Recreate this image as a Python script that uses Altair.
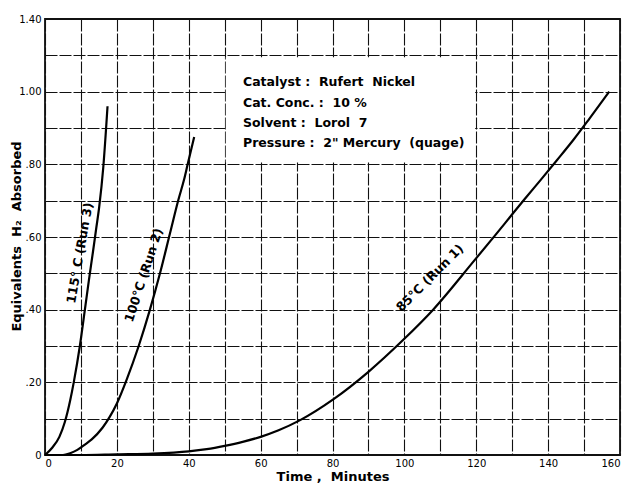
import altair as alt
import pandas as pd

NB = "\u00a0"

# ---- data ----
run1_t = [0, 10, 20, 30, 40, 45, 50, 55, 60, 65, 71, 80.2, 90, 99.7, 108, 119.6, 125.7, 129.4, 133.6, 138, 142.5, 147, 151.5, 157]
run1_h = [0, 0, 0.002, 0.004, 0.01, 0.016, 0.025, 0.036, 0.05, 0.068, 0.096, 0.153, 0.229, 0.317, 0.40, 0.537, 0.61, 0.655, 0.706, 0.758, 0.812, 0.867, 0.926, 1.0]

run2_t = [0, 5, 7, 9, 11, 13, 16, 18, 20, 22.7, 26, 29.2, 32, 34.8, 37.1, 38.7, 39.7, 41.5]
run2_h = [0, 0, 0.005, 0.014, 0.028, 0.043, 0.075, 0.105, 0.142, 0.207, 0.298, 0.40, 0.5, 0.611, 0.702, 0.758, 0.8, 0.875]

run3_t = [0, 2, 4, 5.5, 7, 8, 9.7, 11.1, 12.2, 13.3, 14.2, 15.1, 16.2, 17.4]
run3_h = [0, 0.02, 0.05, 0.09, 0.15, 0.2, 0.3, 0.40, 0.48, 0.556, 0.62, 0.684, 0.79, 0.96]

curve_label_text = ["115° C (Run 3)", "100°C (Run 2)", "85°C (Run 1)"]
curve_label_t = [9.7, 27.5, 107.1]
curve_label_h = [0.556, 0.495, 0.487]
curve_label_angle = [280, 288, 315]

info_lines = [
    f"Catalyst :{NB} Rufert{NB} Nickel",
    f"Cat. Conc. :{NB} 10 %",
    f"Solvent :{NB} Lorol{NB} 7",
    f"Pressure :{NB} 2\" Mercury{NB} (quage)",
]
info_t = [55.1, 55.1, 55.1, 55.1]
info_h = [1.027, 0.969, 0.914, 0.859]

box_t = [50.3]
box_t2 = [119.7]
box_h = [0.805]
box_h2 = [1.095]

x_ticks = list(range(0, 161, 10))
y_ticks = [0, 0.1, 0.2, 0.3, 0.4, 0.5, 0.6, 0.7, 0.8, 0.9, 1.0, 1.1, 1.2]
y_label_vals = [0, 0.2, 0.4, 0.6, 0.8, 1.0, 1.2]
y_label_text = ["0", ".20", ".40", ".60", ".80", "1.00", "1.40"]

# ---- tables ----
rows = []
for name, ts, hs in [("Run 1", run1_t, run1_h), ("Run 2", run2_t, run2_h), ("Run 3", run3_t, run3_h)]:
    for i, (t, h) in enumerate(zip(ts, hs)):
        rows.append({"run": name, "t": t, "h": h, "order": i})
curves = pd.DataFrame(rows)

labels_df = pd.DataFrame({"text": curve_label_text, "t": curve_label_t, "h": curve_label_h, "angle": curve_label_angle})
info_df = pd.DataFrame({"text": info_lines, "t": info_t, "h": info_h})
box_df = pd.DataFrame({"t": box_t, "t2": box_t2, "h": box_h, "h2": box_h2})

y_expr = " : ".join(
    f"abs(datum.value - {v}) < 0.01 ? '{s}'" for v, s in zip(y_label_vals, y_label_text)
) + " : ''"

x_scale = alt.Scale(domain=[0, 160], nice=False, zero=False)
y_scale = alt.Scale(domain=[0, 1.2], nice=False, zero=False)

x_axis = alt.Axis(
    values=x_ticks, title=f"Time ,{NB}{NB}Minutes", format="d",
    labelExpr="datum.value % 20 == 0 ? datum.label : ''",
    titleY=21, titleBaseline="middle",
)
y_axis = alt.Axis(
    values=y_ticks, title=f"Equivalents{NB} H₂{NB} Absorbed", labelExpr=y_expr,
    titleX=-29, titleY=217, titleAngle=270, titleAlign="center", titleBaseline="middle",
)

lines = alt.Chart(curves).mark_line(color="black", strokeWidth=2.2, interpolate="monotone").encode(
    x=alt.X("t:Q", scale=x_scale, axis=x_axis),
    y=alt.Y("h:Q", scale=y_scale, axis=y_axis),
    detail="run:N",
    order="order:Q",
)

box = alt.Chart(box_df).mark_rect(fill="white").encode(
    x=alt.X("t:Q", scale=x_scale, axis=x_axis),
    x2="t2:Q",
    y=alt.Y("h:Q", scale=y_scale, axis=y_axis),
    y2="h2:Q",
)

info = alt.Chart(info_df).mark_text(
    align="left", baseline="middle", font="DejaVu Sans", fontWeight="bold", fontSize=12.5, color="black"
).encode(
    x=alt.X("t:Q", scale=x_scale, axis=x_axis),
    y=alt.Y("h:Q", scale=y_scale, axis=y_axis),
    text="text:N",
)

curve_labels = alt.Chart(labels_df).mark_text(
    align="center", baseline="middle", font="DejaVu Sans", fontWeight="bold", fontSize=12.5, color="black"
).encode(
    x=alt.X("t:Q", scale=x_scale, axis=x_axis),
    y=alt.Y("h:Q", scale=y_scale, axis=y_axis),
    text="text:N",
    angle=alt.Angle("angle:Q", scale=None),
)

chart = alt.layer(box, lines, info, curve_labels).properties(
    width=575, height=436,
    autosize=alt.AutoSizeParams(type="none"),
    padding={"left": 37, "top": 11, "right": 4, "bottom": 30},
    background="white",
).configure_view(
    stroke="#111", strokeWidth=1.8,
).configure_axis(
    grid=True, gridColor="#111", gridWidth=1.1, gridDash=[12, 2], gridOpacity=1,
    domain=False, ticks=False,
    labelFont="DejaVu Sans", labelFontSize=10, labelColor="black", labelPadding=4,
    titleFont="DejaVu Sans", titleFontSize=13, titleFontWeight="bold", titleColor="black",
).configure_axisX(
    labelPadding=3,
)

chart.save("out.html", embed_options={"renderer": "svg", "actions": False})
